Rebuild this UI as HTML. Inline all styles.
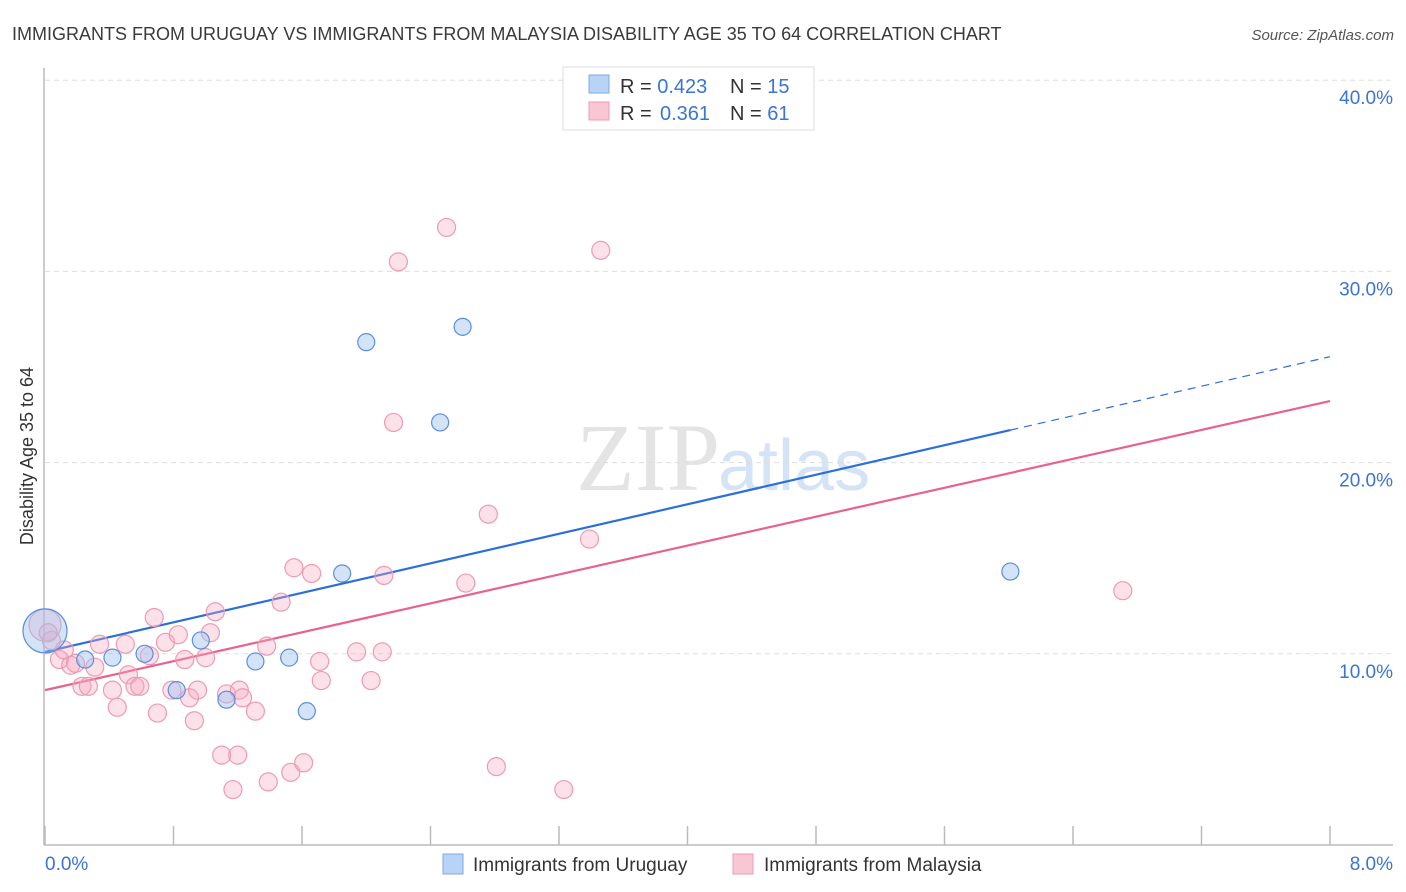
<!DOCTYPE html>
<html><head><meta charset="utf-8">
<style>
body{margin:0;background:#fff;font-family:"Liberation Sans",sans-serif;}
svg{display:block}
</style></head>
<body>
<svg id="chart" width="1406" height="892" xmlns="http://www.w3.org/2000/svg">
<text x="12" y="40" font-size="18" fill="#3a3a3a">IMMIGRANTS FROM URUGUAY VS IMMIGRANTS FROM MALAYSIA DISABILITY AGE 35 TO 64 CORRELATION CHART</text>
<text x="1394" y="40" font-size="15" fill="#555" font-style="italic" text-anchor="end">Source: ZipAtlas.com</text>
<text x="720" y="490" font-size="96" fill="#e4e4e4" font-family="Liberation Serif,serif" text-anchor="end">ZIP</text>
<text x="718" y="490" font-size="72" fill="#d4e3f5">atlas</text>
<g id="grid"></g>
<g id="axes"></g>
<g id="lines"></g>
<g id="points"></g>
<text transform="translate(33,456) rotate(-90)" font-size="18" fill="#333" text-anchor="middle">Disability Age 35 to 64</text>
<g>
<rect x="563" y="67" width="251" height="63" fill="#fff" stroke="#ddd"/>
<rect x="589" y="75" width="20" height="18" fill="#b8d3f5" stroke="#7ea8e6"/>
<rect x="589" y="102" width="20" height="18" fill="#f9c6d4" stroke="#ee9ab3"/>
<text x="620" y="93" font-size="20" fill="#333">R = <tspan fill="#3a74d4">0.423</tspan><tspan x="730">N = </tspan><tspan fill="#3a74d4">15</tspan></text>
<text x="620" y="120" font-size="20" fill="#333">R = <tspan x="660" fill="#3a74d4">0.361</tspan><tspan x="730">N = </tspan><tspan fill="#3a74d4">61</tspan></text>
</g>
<g>
<rect x="443" y="854" width="20" height="20" fill="#b8d3f5" stroke="#7ea8e6"/>
<text x="473" y="871" font-size="19" fill="#333">Immigrants from Uruguay</text>
<rect x="733" y="854" width="20" height="20" fill="#f9c6d4" stroke="#ee9ab3"/>
<text x="764" y="871" font-size="19" fill="#333">Immigrants from Malaysia</text>
</g>
</svg>
<script>
const yTicks=[10,20,30,40];
const yTickLabels=["10.0%","20.0%","30.0%","40.0%"];
const xTicks=[0,0.8,1.6,2.4,3.2,4,4.8,5.6,6.4,7.2,8];
const xEndLabels=["0.0%","8.0%"];
const uruguayX=[0.0,0.25,0.42,0.62,0.82,0.97,1.13,1.31,1.52,1.63,1.85,2.00,2.46,2.60,6.01];
const uruguayY=[11.2,9.7,9.8,10.0,8.1,10.7,7.6,9.6,9.8,7.0,14.2,26.3,22.1,27.1,14.3];
const malaysiaX=[0.00,0.02,0.04,0.09,0.12,0.16,0.19,0.23,0.27,0.31,0.34,0.42,0.45,0.50,0.52,0.56,0.59,0.65,0.68,0.70,0.75,0.79,0.83,0.87,0.90,0.93,0.95,1.00,1.03,1.06,1.10,1.13,1.21,1.17,1.20,1.23,1.31,1.38,1.39,1.47,1.53,1.55,1.61,1.66,1.71,1.72,1.94,2.03,2.10,2.11,2.17,2.20,2.50,2.62,2.76,2.81,3.23,3.39,3.46,6.71];
const malaysiaY=[11.5,11.1,10.7,9.7,10.2,9.4,9.5,8.3,8.3,9.3,10.5,8.1,7.2,10.5,8.9,8.3,8.3,9.9,11.9,6.9,10.6,8.1,11.0,9.7,7.7,6.5,8.1,9.8,11.1,12.2,4.7,7.9,8.1,2.9,4.7,7.7,7.0,10.4,3.3,12.7,3.8,14.5,4.3,14.2,9.6,8.6,10.1,8.6,10.1,14.1,22.1,30.5,32.3,13.7,17.3,4.1,2.9,16.0,31.1,13.3];
const uruguayTrend=[10.1,1.93];
const malaysiaTrend=[8.1,1.89];
const uruguayMaxX=6.01;

const X0=45,X1=1330,Y0=845,PPY=19.12;
const sx=v=>X0+(X1-X0)*v/8;
const sy=v=>Y0-v*PPY;
const NS="http://www.w3.org/2000/svg";
function mk(tag,parent,attrs){const e=document.createElementNS(NS,tag);for(const k in attrs)e.setAttribute(k,attrs[k]);parent.appendChild(e);return e;}
const grid=document.getElementById('grid'),axes=document.getElementById('axes'),lines=document.getElementById('lines'),pts=document.getElementById('points');
yTicks.forEach((t,i)=>{
  const l=mk('line',grid,{x1:X0,x2:1393,y1:sy(t),y2:sy(t),stroke:'#ddd','stroke-dasharray':'5,4'});
  
  
  const tx=mk('text',grid,{x:1393,y:sy(t)+24,'font-size':19,fill:'#3a74d4','text-anchor':'end'});
  tx.textContent=yTickLabels[i];
  
  
});
const ya=mk('line',axes,{x1:44,x2:44,y1:68,y2:Y0,stroke:'#bbb','stroke-width':1.5});


const xa=mk('line',axes,{x1:44,x2:1393,y1:Y0,y2:Y0,stroke:'#bbb','stroke-width':1.5});


xTicks.forEach(t=>{
  const l=mk('line',axes,{x1:sx(t),x2:sx(t),y1:826,y2:Y0,stroke:'#bbb','stroke-width':1.5});
  
  
});
const xl0=mk('text',axes,{x:45,y:870,'font-size':19,fill:'#3a74d4'});xl0.textContent=xEndLabels[0];


const xl1=mk('text',axes,{x:1393,y:870,'font-size':19,fill:'#3a74d4','text-anchor':'end'});xl1.textContent=xEndLabels[1];


function dot(x,y,r,fill,stroke,name){
  const c=mk('circle',pts,{cx:sx(x),cy:sy(y),r:r,fill:fill,stroke:stroke,'stroke-width':1.2});
  
  
}
malaysiaX.forEach((x,i)=>dot(x,malaysiaY[i],i===0?16:9,'rgba(246,170,192,0.35)','#ee9ab3','malaysia-point'));
uruguayX.forEach((x,i)=>dot(x,uruguayY[i],i===0?22:8.5,'rgba(160,195,240,0.45)','#5b8ee0','uruguay-point'));
const tl=(tr,a,b)=>({x1:sx(a),y1:sy(tr[0]+tr[1]*a),x2:sx(b),y2:sy(tr[0]+tr[1]*b)});
const u1=mk('line',lines,Object.assign(tl(uruguayTrend,0,uruguayMaxX),{stroke:'#2c6fd8','stroke-width':2.2}));


const u2=mk('line',lines,Object.assign(tl(uruguayTrend,uruguayMaxX,8),{stroke:'#2c6fd8','stroke-width':1.2,'stroke-dasharray':'8,6'}));


const m1=mk('line',lines,Object.assign(tl(malaysiaTrend,0,8),{stroke:'#e8628e','stroke-width':2.2}));


</script>
</body></html>
